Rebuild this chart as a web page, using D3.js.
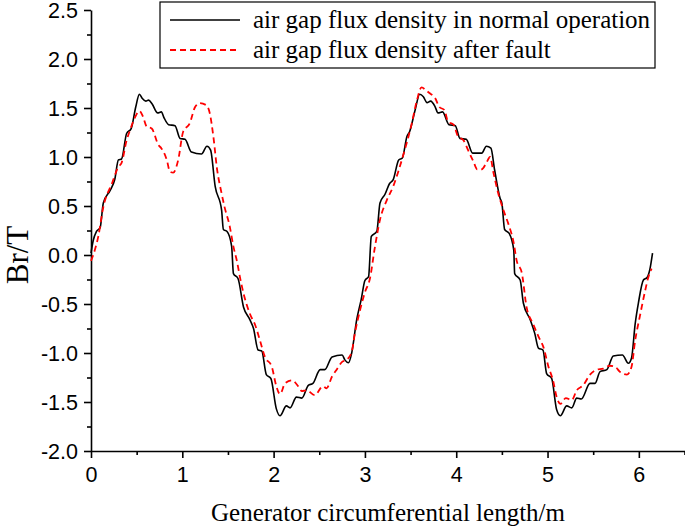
<!DOCTYPE html>
<html>
<head>
<meta charset="utf-8">
<script src="https://cdn.jsdelivr.net/npm/d3@7"></script>
<style>
  html, body { margin: 0; padding: 0; background: #fff; }
  svg { display: block; }
</style>
</head>
<body>
<svg id="chart" width="685" height="529"></svg>
<script>
// ---- data ----
const seriesNames = ["air gap flux density in normal operation", "air gap flux density after fault"];

const normalX = [0.00,0.025,0.06,0.10,0.135,0.21,0.26,0.30,0.335,0.39,0.44,0.49,0.53,0.56,0.60,0.63,0.67,0.73,0.77,0.80,0.85,0.92,0.975,1.03,1.10,1.21,1.27,1.31,1.36,1.43,1.45,1.49,1.54,1.56,1.61,1.67,1.74,1.78,1.83,1.87,1.92,1.97,2.03,2.07,2.14,2.18,2.25,2.31,2.38,2.43,2.51,2.56,2.64,2.75,2.78,2.82,2.855,2.91,2.96,3.00,3.04,3.07,3.13,3.165,3.22,3.27,3.31,3.37,3.41,3.46,3.49,3.55,3.60,3.64,3.68,3.72,3.77,3.80,3.85,3.92,3.99,4.04,4.11,4.18,4.28,4.33,4.38,4.42,4.48,4.50,4.53,4.58,4.63,4.64,4.70,4.735,4.81,4.86,4.90,4.95,4.99,5.045,5.10,5.14,5.21,5.265,5.32,5.37,5.465,5.52,5.575,5.65,5.72,5.82,5.885,5.92,5.96,5.995,6.05,6.09,6.12,6.15];
const normalB = [0.02,0.15,0.24,0.28,0.53,0.66,0.77,0.97,0.98,1.24,1.29,1.51,1.64,1.60,1.57,1.58,1.54,1.45,1.46,1.40,1.33,1.32,1.19,1.18,1.05,1.03,1.11,1.07,0.70,0.46,0.26,0.24,0.09,-0.19,-0.24,-0.53,-0.66,-0.75,-0.97,-0.98,-1.22,-1.26,-1.57,-1.64,-1.54,-1.56,-1.45,-1.46,-1.33,-1.31,-1.17,-1.17,-1.04,-1.02,-1.07,-1.10,-1.00,-0.66,-0.45,-0.26,-0.22,0.19,0.24,0.53,0.62,0.73,0.77,0.97,0.99,1.21,1.26,1.48,1.64,1.615,1.555,1.57,1.51,1.45,1.46,1.33,1.32,1.19,1.18,1.04,1.04,1.11,1.09,0.87,0.58,0.53,0.26,0.22,0.05,-0.19,-0.255,-0.49,-0.66,-0.80,-0.95,-0.97,-1.21,-1.26,-1.58,-1.64,-1.54,-1.56,-1.46,-1.47,-1.31,-1.31,-1.19,-1.17,-1.03,-1.02,-1.105,-1.05,-0.70,-0.49,-0.255,-0.23,-0.15,0.02];

const faultX = [0.00,0.045,0.08,0.135,0.23,0.30,0.335,0.39,0.43,0.48,0.53,0.57,0.61,0.665,0.74,0.77,0.83,0.865,0.90,0.955,1.01,1.08,1.14,1.19,1.26,1.30,1.34,1.38,1.43,1.46,1.52,1.56,1.60,1.63,1.67,1.74,1.80,1.85,1.905,1.98,2.03,2.07,2.125,2.20,2.27,2.31,2.36,2.45,2.54,2.58,2.64,2.69,2.75,2.80,2.855,2.89,2.95,3.00,3.055,3.11,3.165,3.24,3.31,3.365,3.42,3.51,3.57,3.62,3.67,3.71,3.77,3.815,3.87,3.91,3.97,4.02,4.08,4.13,4.19,4.23,4.28,4.33,4.37,4.41,4.46,4.52,4.57,4.63,4.66,4.72,4.77,4.84,4.90,4.955,5.01,5.06,5.10,5.14,5.20,5.265,5.32,5.39,5.465,5.54,5.61,5.68,5.74,5.79,5.87,5.92,5.96,6.01,6.07,6.10,6.14];
const faultB = [-0.06,0.06,0.19,0.49,0.73,0.90,0.94,1.17,1.28,1.40,1.47,1.41,1.31,1.29,1.12,1.09,0.97,0.85,0.84,0.97,1.26,1.34,1.51,1.55,1.53,1.45,1.21,0.88,0.63,0.50,0.29,0.085,-0.07,-0.22,-0.39,-0.60,-0.72,-0.87,-1.04,-1.14,-1.34,-1.42,-1.31,-1.28,-1.34,-1.39,-1.38,-1.43,-1.34,-1.36,-1.24,-1.17,-1.09,-1.07,-0.99,-0.80,-0.55,-0.38,-0.24,0.085,0.36,0.56,0.70,0.85,1.02,1.33,1.58,1.71,1.68,1.65,1.60,1.51,1.48,1.36,1.33,1.21,1.17,1.07,0.95,0.875,0.875,0.94,1.00,0.83,0.63,0.45,0.32,0.12,-0.05,-0.19,-0.53,-0.70,-0.83,-0.94,-1.14,-1.28,-1.45,-1.52,-1.46,-1.48,-1.38,-1.33,-1.22,-1.17,-1.16,-1.13,-1.14,-1.19,-1.22,-1.14,-0.87,-0.63,-0.36,-0.24,-0.14];

const xTicks = [0,1,2,3,4,5,6];
const xTickLabels = ["0","1","2","3","4","5","6"];
const xMinorTicks = [0.5,1.5,2.5,3.5,4.5,5.5,6.5];
const yTicks = [-2.0,-1.5,-1.0,-0.5,0.0,0.5,1.0,1.5,2.0,2.5];
const yTickLabels = ["-2.0","-1.5","-1.0","-0.5","0.0","0.5","1.0","1.5","2.0","2.5"];
const yMinorTicks = [-1.75,-1.25,-0.75,-0.25,0.25,0.75,1.25,1.75,2.25];
const xTitle = "Generator circumferential length/m";
const yTitle = "Br/T";

// ---- chart ----
const svg = d3.select("#chart");
const x = d3.scaleLinear().domain([0, 6.5]).range([91, 684.5]);
const y = d3.scaleLinear().domain([-2, 2.5]).range([451, 10]);

const tickFont = "'Liberation Sans', Arial, sans-serif";
const serif = "'Liberation Serif', 'Times New Roman', serif";

// x axis
const gx = svg.append("g").attr("transform", `translate(0,${y(-2)})`);
gx.call(d3.axisBottom(x).tickValues(xTicks).tickSize(7).tickSizeOuter(0)
  .tickFormat((d, i) => xTickLabels[i]));
gx.selectAll("text").attr("font-family", tickFont).attr("font-size", 21.5)
  .attr("fill", "#000").attr("dy", null).attr("y", 31);
svg.append("g").attr("transform", `translate(0,${y(-2)})`)
  .call(d3.axisBottom(x).tickValues(xMinorTicks).tickSize(4).tickSizeOuter(0).tickFormat(""))
  .select(".domain").remove();

// y axis
const gy = svg.append("g").attr("transform", `translate(${x(0)},0)`);
gy.call(d3.axisLeft(y).tickValues(yTicks).tickSize(7).tickSizeOuter(0)
  .tickFormat((d, i) => yTickLabels[i]));
gy.selectAll("text").attr("font-family", tickFont).attr("font-size", 21.5)
  .attr("fill", "#000").attr("x", -13).attr("dy", "0.35em");
svg.append("g").attr("transform", `translate(${x(0)},0)`)
  .call(d3.axisLeft(y).tickValues(yMinorTicks).tickSize(4).tickSizeOuter(0).tickFormat(""))
  .select(".domain").remove();

svg.selectAll(".domain, .tick line").attr("stroke", "#000").attr("stroke-width", 1.6);

// lines
const line = d3.line().x(d => x(d[0])).y(d => y(d[1])).curve(d3.curveMonotoneX);
const normal = normalX.map((v, i) => [v, normalB[i]]);
const fault = faultX.map((v, i) => [v, faultB[i]]);

svg.append("path").datum(normal).attr("d", line)
  .attr("fill", "none").attr("stroke", "#000").attr("stroke-width", 1.6);
svg.append("path").datum(fault).attr("d", line)
  .attr("fill", "none").attr("stroke", "#ff0000").attr("stroke-width", 1.8)
  .attr("stroke-dasharray", "6,4");

// titles
svg.append("text").attr("x", 388).attr("y", 521).attr("text-anchor", "middle")
  .attr("font-family", serif).attr("font-size", 25).attr("fill", "#000").text(xTitle);
svg.append("text").attr("transform", `translate(28,${y(0)}) rotate(-90)`)
  .attr("text-anchor", "middle").attr("font-family", serif).attr("font-size", 31)
  .attr("fill", "#000").text(yTitle);

// legend
const lg = svg.append("g");
lg.append("rect").attr("x", 160).attr("y", 2).attr("width", 495).attr("height", 66)
  .attr("fill", "#fff").attr("stroke", "#000").attr("stroke-width", 1.2);
const legendRows = [
  {name: seriesNames[0], color: "#000", dash: null, w: 1.6},
  {name: seriesNames[1], color: "#ff0000", dash: "6,4", w: 1.8}
];
legendRows.forEach((r, i) => {
  const cy = 20 + i * 30;
  lg.append("line").attr("x1", 170).attr("x2", 240).attr("y1", cy).attr("y2", cy)
    .attr("stroke", r.color).attr("stroke-width", r.w).attr("stroke-dasharray", r.dash);
  lg.append("text").attr("x", 253).attr("y", cy + 8).attr("font-family", serif)
    .attr("font-size", 25).attr("fill", "#000").text(r.name);
});
</script>
</body>
</html>
